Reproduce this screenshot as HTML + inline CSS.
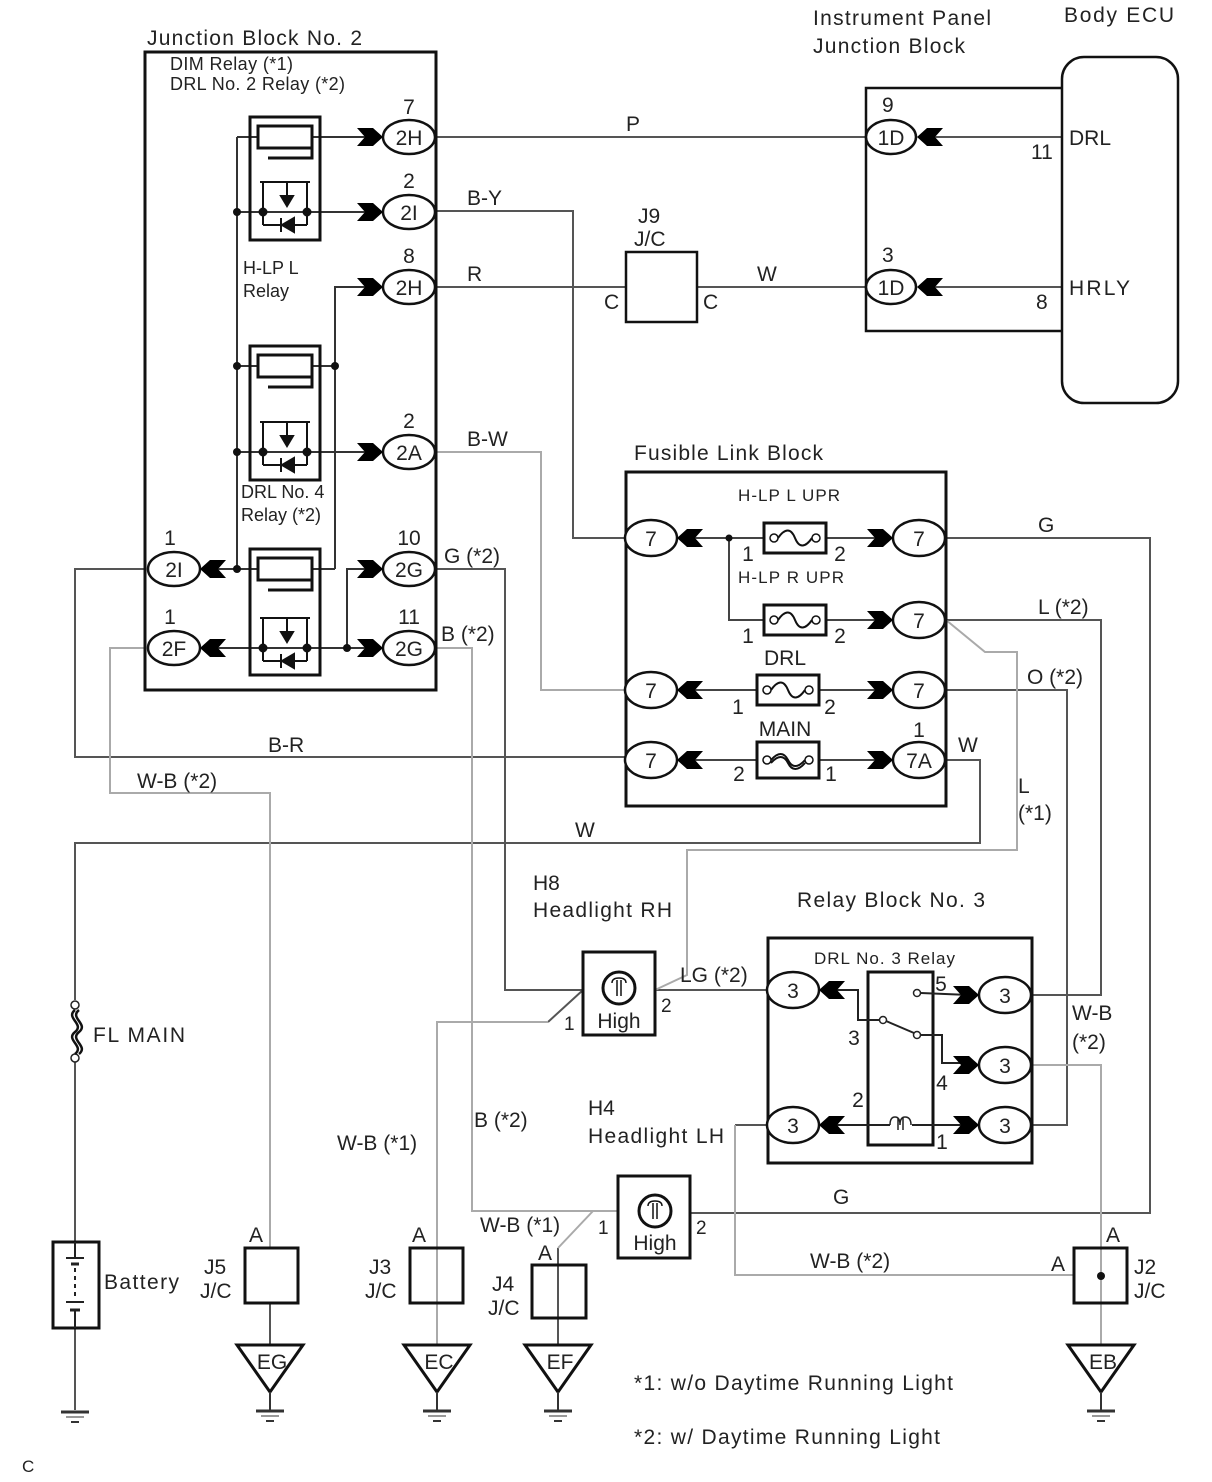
<!DOCTYPE html>
<html><head><meta charset="utf-8"><style>
html,body{margin:0;padding:0;background:#fff;}
svg{display:block;}
text{font-family:"Liberation Sans",Arial,sans-serif;fill:#222;}
</style></head><body>
<svg width="1212" height="1482" viewBox="0 0 1212 1482" xmlns="http://www.w3.org/2000/svg">
<defs>
<path id="cr" d="M-16,-9 L0,-9 L10,0 L0,9 L-16,9 L-8,0 Z" fill="#000"/>
<path id="cl" d="M16,-9 L0,-9 L-10,0 L0,9 L16,9 L8,0 Z" fill="#000"/>
<g id="coil"><rect x="8" y="-11" width="54" height="22" fill="#fff" stroke="#111" stroke-width="3"/><polyline points="18,21 62,21 62,11" fill="none" stroke="#111" stroke-width="3"/></g>
<g id="sw" stroke="#111" stroke-width="2" fill="none"><line x1="10" y1="-30" x2="60" y2="-30"/><line x1="13" y1="-30" x2="13" y2="13"/><line x1="37" y1="-30" x2="37" y2="-12"/><line x1="57" y1="-30" x2="57" y2="13"/><line x1="13" y1="13" x2="57" y2="13"/><polygon points="31,-16 43,-16 37,-6" fill="#111"/><polygon points="44,6 44,20 32,13" fill="#111"/><line x1="31" y1="6" x2="31" y2="20"/><circle cx="13" cy="0" r="3.5" fill="#111"/><circle cx="57" cy="0" r="3.5" fill="#111"/></g>
<g id="fuse"><rect x="-31" y="-15" width="62" height="30" fill="#fff" stroke="#111" stroke-width="3"/><circle cx="-21" cy="0" r="4" fill="#fff" stroke="#111" stroke-width="1.5"/><circle cx="21" cy="0" r="4" fill="#fff" stroke="#111" stroke-width="1.5"/><path d="M-17,0 C-10,-10 -4,-10 0,0 S10,10 17,0" fill="none" stroke="#111" stroke-width="2"/></g>
<g id="gnd"><polygon points="-33,0 33,0 0,47" fill="#fff" stroke="#111" stroke-width="3"/><line x1="0" y1="47" x2="0" y2="66" stroke="#333" stroke-width="2"/><line x1="-14" y1="66" x2="14" y2="66" stroke="#333" stroke-width="3"/><line x1="-9" y1="71" x2="9" y2="71" stroke="#999" stroke-width="2"/><line x1="-4" y1="76" x2="4" y2="76" stroke="#333" stroke-width="2"/></g>
<g id="lamp"><circle cx="0" cy="0" r="16" fill="none" stroke="#111" stroke-width="3"/><path d="M-7,-5 Q-7,-10 0,-10 Q7,-10 7,-5 M-2,-8 L-2,8 M2,-8 L2,8" fill="none" stroke="#111" stroke-width="1.5"/></g>
</defs>

<g fill="none" stroke-width="2">
<g stroke="#555">
<line x1="436" y1="137" x2="866" y2="137"/>
<polyline points="436,211 573,211 573,538 627,538"/>
<line x1="436" y1="287" x2="626" y2="287"/>
<line x1="697" y1="287" x2="866" y2="287"/>
<line x1="918" y1="137" x2="1062" y2="137"/>
<line x1="918" y1="287" x2="1062" y2="287"/>
<polyline points="436,569 505,569 505,990 583,990"/>
<polyline points="145,569 75,569 75,757 627,757"/>
<polyline points="946,538 1150,538 1150,1213 690,1213"/>
<polyline points="946,620 1101,620 1101,995 1032,995"/>
<polyline points="946,690 1067,690 1067,1125 1032,1125"/>
<polyline points="946,760 980,760 980,843 75,843 75,1000"/>
<line x1="75" y1="1062" x2="75" y2="1242"/>
<line x1="75" y1="1328" x2="75" y2="1410"/>
<line x1="655" y1="990" x2="768" y2="990"/>
<polyline points="735,1125 768,1125"/>
<line x1="270" y1="1303" x2="270" y2="1345"/>
<line x1="558" y1="1248" x2="558" y2="1345"/>
<polyline points="583,990 548,1022"/>
</g>
<g stroke="#aaa">
<polyline points="436,452 541,452 541,690 627,690"/>
<polyline points="436,648 472,648 472,1211 618,1211"/>
<polyline points="145,648 110,648 110,793 270,793 270,1248"/>
<polyline points="946,620 985,652 1017,652 1017,850 687,850 687,975 655,990"/>
<polyline points="548,1022 437,1022 437,1345"/>
<polyline points="593,1211 558,1248"/>
<polyline points="1032,1065 1101,1065 1101,1345"/>
<polyline points="735,1125 735,1275 1074,1275"/>
</g>
</g>

<rect x="145" y="52" width="291" height="638" fill="none" stroke="#111" stroke-width="3"/>
<text x="147" y="45" font-size="21" textLength="215">Junction Block No. 2</text>
<text x="170" y="70" font-size="18" textLength="123">DIM Relay (*1)</text>
<text x="170" y="90" font-size="18" textLength="175">DRL No. 2 Relay (*2)</text>
<text x="243" y="274" font-size="18">H-LP L</text>
<text x="243" y="297" font-size="18">Relay</text>
<text x="241" y="498" font-size="18">DRL No. 4</text>
<text x="241" y="521" font-size="18">Relay (*2)</text>
<g stroke="#333" stroke-width="2" fill="none">
<line x1="237" y1="137" x2="373" y2="137"/>
<line x1="237" y1="137" x2="237" y2="569"/>
<line x1="237" y1="212" x2="373" y2="212"/>
<line x1="237" y1="366" x2="335" y2="366"/>
<line x1="237" y1="452" x2="373" y2="452"/>
<line x1="210" y1="569" x2="335" y2="569"/>
<polyline points="335,569 335,287 373,287"/>
<polyline points="373,569 347,569 347,648"/>
<line x1="210" y1="648" x2="373" y2="648"/>
</g>
<g fill="#111"><circle cx="237" cy="212" r="4"/><circle cx="237" cy="366" r="4"/><circle cx="237" cy="452" r="4"/><circle cx="237" cy="569" r="4"/><circle cx="335" cy="366" r="4"/><circle cx="347" cy="648" r="4"/></g>
<rect x="250" y="117" width="70" height="123" fill="none" stroke="#111" stroke-width="3"/>
<rect x="250" y="346" width="70" height="134" fill="none" stroke="#111" stroke-width="3"/>
<rect x="250" y="549" width="70" height="126" fill="none" stroke="#111" stroke-width="3"/>
<use href="#coil" x="250" y="137"/><use href="#sw" x="250" y="212"/>
<use href="#coil" x="250" y="366"/><use href="#sw" x="250" y="452"/>
<use href="#coil" x="250" y="569"/><use href="#sw" x="250" y="648"/>

<g fill="#fff" stroke="#111" stroke-width="2.5">
<ellipse cx="409" cy="137" rx="26" ry="17"/><ellipse cx="409" cy="212" rx="26" ry="17"/><ellipse cx="409" cy="287" rx="26" ry="17"/>
<ellipse cx="409" cy="452" rx="26" ry="17"/><ellipse cx="409" cy="569" rx="26" ry="17"/><ellipse cx="409" cy="648" rx="26" ry="17"/>
<ellipse cx="174" cy="569" rx="26" ry="17"/><ellipse cx="174" cy="648" rx="26" ry="17"/>
</g>
<use href="#cr" x="373" y="137"/><use href="#cr" x="373" y="212"/><use href="#cr" x="373" y="287"/><use href="#cr" x="373" y="452"/><use href="#cr" x="373" y="569"/><use href="#cr" x="373" y="648"/>
<use href="#cl" x="210" y="569"/><use href="#cl" x="210" y="648"/>
<g font-size="21" text-anchor="middle">
<text x="409" y="145">2H</text><text x="409" y="220">2I</text><text x="409" y="295">2H</text><text x="409" y="460">2A</text><text x="409" y="577">2G</text><text x="409" y="656">2G</text>
<text x="174" y="577">2I</text><text x="174" y="656">2F</text>
<text x="409" y="114">7</text><text x="409" y="188">2</text><text x="409" y="263">8</text><text x="409" y="428">2</text><text x="409" y="545">10</text><text x="409" y="624">11</text>
<text x="170" y="545">1</text><text x="170" y="624">1</text>
</g>

<g font-size="21">
<text x="626" y="131">P</text><text x="467" y="205">B-Y</text><text x="467" y="281">R</text>
<text x="757" y="281">W</text><text x="467" y="446">B-W</text><text x="444" y="563">G (*2)</text>
<text x="441" y="641">B (*2)</text><text x="268" y="752">B-R</text><text x="137" y="788">W-B (*2)</text>
<text x="575" y="837">W</text><text x="1038" y="532">G</text><text x="1038" y="614">L (*2)</text>
<text x="1027" y="684">O (*2)</text><text x="958" y="752">W</text><text x="1018" y="793">L</text><text x="1018" y="820">(*1)</text>
<text x="680" y="982">LG (*2)</text><text x="1072" y="1020">W-B</text><text x="1072" y="1049">(*2)</text>
<text x="833" y="1204">G</text><text x="810" y="1268">W-B (*2)</text>
<text x="337" y="1150">W-B (*1)</text><text x="474" y="1127">B (*2)</text><text x="480" y="1232">W-B (*1)</text>
</g>

<rect x="626" y="252" width="71" height="70" fill="none" stroke="#111" stroke-width="2.5"/>
<text x="638" y="223" font-size="21">J9</text><text x="634" y="246" font-size="21">J/C</text>
<text x="604" y="309" font-size="21">C</text><text x="703" y="309" font-size="21">C</text>

<text x="813" y="25" font-size="21" textLength="178">Instrument Panel</text>
<text x="813" y="53" font-size="21" textLength="152">Junction Block</text>
<text x="1064" y="22" font-size="21" textLength="110">Body ECU</text>
<polyline points="1062,88 866,88 866,331 1062,331" fill="none" stroke="#111" stroke-width="2.5"/>
<rect x="1062" y="57" width="116" height="346" rx="22" fill="none" stroke="#111" stroke-width="2.5"/>
<ellipse cx="891" cy="137" rx="25" ry="17" fill="#fff" stroke="#111" stroke-width="2.5"/>
<ellipse cx="891" cy="287" rx="25" ry="17" fill="#fff" stroke="#111" stroke-width="2.5"/>
<use href="#cl" x="927" y="137"/><use href="#cl" x="927" y="287"/>
<g font-size="21">
<text x="891" y="145" text-anchor="middle">1D</text><text x="891" y="295" text-anchor="middle">1D</text>
<text x="882" y="112">9</text><text x="882" y="262">3</text>
<text x="1031" y="159">11</text><text x="1036" y="309">8</text>
<text x="1069" y="145">DRL</text><text x="1069" y="295" textLength="61">HRLY</text>
</g>

<rect x="626" y="472" width="320" height="334" fill="none" stroke="#111" stroke-width="3"/>
<text x="634" y="460" font-size="21" textLength="189">Fusible Link Block</text>
<g stroke="#444" stroke-width="2" fill="none">
<line x1="677" y1="538" x2="883" y2="538"/>
<polyline points="729,538 729,620 883,620"/>
<line x1="677" y1="690" x2="883" y2="690"/>
<line x1="677" y1="760" x2="883" y2="760"/>
</g>
<circle cx="729" cy="538" r="3.5" fill="#111"/>
<use href="#fuse" x="795" y="538"/><use href="#fuse" x="795" y="620"/><use href="#fuse" x="788" y="690"/>
<g transform="translate(788,760)"><rect x="-31" y="-18" width="62" height="36" fill="#fff" stroke="#111" stroke-width="3"/><circle cx="-21" cy="0" r="4" fill="#fff" stroke="#111" stroke-width="1.5"/><circle cx="21" cy="0" r="4" fill="#fff" stroke="#111" stroke-width="1.5"/><path d="M-17,0 C-10,-8 -4,-8 0,0 S10,8 17,0 M-17,3 C-10,-5 -4,-5 0,3 S10,11 17,3" fill="none" stroke="#111" stroke-width="2"/></g>
<g fill="#fff" stroke="#111" stroke-width="2.5">
<ellipse cx="651" cy="538" rx="26" ry="18"/><ellipse cx="651" cy="690" rx="26" ry="18"/><ellipse cx="651" cy="760" rx="26" ry="18"/>
<ellipse cx="919" cy="538" rx="26" ry="18"/><ellipse cx="919" cy="620" rx="26" ry="18"/><ellipse cx="919" cy="690" rx="26" ry="18"/><ellipse cx="919" cy="760" rx="26" ry="18"/>
</g>
<use href="#cl" x="687" y="538"/><use href="#cl" x="687" y="690"/><use href="#cl" x="687" y="760"/>
<use href="#cr" x="883" y="538"/><use href="#cr" x="883" y="620"/><use href="#cr" x="883" y="690"/><use href="#cr" x="883" y="760"/>
<g font-size="21" text-anchor="middle">
<text x="651" y="546">7</text><text x="651" y="698">7</text><text x="651" y="768">7</text>
<text x="919" y="546">7</text><text x="919" y="628">7</text><text x="919" y="698">7</text><text x="919" y="768">7A</text>
<text x="919" y="737">1</text>
<text x="748" y="561">1</text><text x="840" y="561">2</text><text x="748" y="643">1</text><text x="840" y="643">2</text>
<text x="738" y="714">1</text><text x="830" y="714">2</text><text x="739" y="781">2</text><text x="831" y="781">1</text>
<text x="785" y="665">DRL</text><text x="785" y="736">MAIN</text>
</g>
<text x="789" y="501" font-size="17" text-anchor="middle" textLength="102">H-LP L UPR</text>
<text x="791" y="583" font-size="17" text-anchor="middle" textLength="106">H-LP R UPR</text>

<text x="533" y="890" font-size="21">H8</text><text x="533" y="917" font-size="21" textLength="139">Headlight RH</text>
<rect x="583" y="952" width="72" height="83" fill="#fff" stroke="#111" stroke-width="3"/>
<use href="#lamp" x="619" y="988"/><text x="619" y="1028" font-size="21" text-anchor="middle">High</text>
<text x="564" y="1030" font-size="19">1</text><text x="661" y="1012" font-size="19">2</text>
<text x="588" y="1115" font-size="21">H4</text><text x="588" y="1143" font-size="21" textLength="136">Headlight LH</text>
<rect x="618" y="1176" width="72" height="82" fill="#fff" stroke="#111" stroke-width="3"/>
<use href="#lamp" x="655" y="1211"/><text x="655" y="1250" font-size="21" text-anchor="middle">High</text>
<text x="598" y="1234" font-size="19">1</text><text x="696" y="1234" font-size="19">2</text>

<text x="797" y="907" font-size="21" textLength="188">Relay Block No. 3</text>
<rect x="768" y="938" width="264" height="225" fill="none" stroke="#111" stroke-width="3"/>
<text x="814" y="964" font-size="17" textLength="141">DRL No. 3 Relay</text>
<rect x="868" y="972" width="65" height="173" fill="none" stroke="#111" stroke-width="3"/>
<g stroke="#222" stroke-width="2" fill="none">
<polyline points="829,990 858,990 858,1020 880,1020"/>
<line x1="886" y1="1021" x2="914" y2="1033"/>
<polyline points="921,1035 942,1035 942,1063 969,1063"/>
<line x1="921" y1="993" x2="969" y2="995"/>
<line x1="829" y1="1125" x2="969" y2="1125"/>
</g>
<g fill="#fff" stroke="#222" stroke-width="1.5"><circle cx="883" cy="1020" r="3.5"/><circle cx="917" cy="1035" r="3.5"/><circle cx="917" cy="993" r="3.5"/></g>
<rect x="890" y="1118" width="22" height="12" fill="#fff"/><path d="M890,1125 Q890,1117 895,1117 Q900,1117 900,1125 Q900,1117 905,1117 Q911,1117 911,1125 M898,1118 L898,1130 M903,1118 L903,1130" fill="none" stroke="#222" stroke-width="1.5"/>
<g fill="#fff" stroke="#111" stroke-width="2.5">
<ellipse cx="793" cy="990" rx="26" ry="18"/><ellipse cx="793" cy="1125" rx="26" ry="18"/>
<ellipse cx="1005" cy="995" rx="26" ry="18"/><ellipse cx="1005" cy="1065" rx="26" ry="18"/><ellipse cx="1005" cy="1125" rx="26" ry="18"/>
</g>
<use href="#cl" x="829" y="990"/><use href="#cl" x="829" y="1125"/>
<use href="#cr" x="969" y="995"/><use href="#cr" x="969" y="1065"/><use href="#cr" x="969" y="1125"/>
<g font-size="21" text-anchor="middle">
<text x="793" y="998">3</text><text x="793" y="1133">3</text><text x="1005" y="1003">3</text><text x="1005" y="1073">3</text><text x="1005" y="1133">3</text>
<text x="854" y="1045">3</text><text x="941" y="991">5</text><text x="942" y="1090">4</text><text x="858" y="1107">2</text><text x="942" y="1149">1</text>
</g>

<circle cx="75" cy="1005" r="4" fill="#fff" stroke="#222" stroke-width="1.5"/>
<circle cx="75" cy="1058" r="4" fill="#fff" stroke="#222" stroke-width="1.5"/>
<path d="M75,1010 C65,1018 85,1024 75,1032 C65,1040 85,1046 75,1054 M79,1010 C69,1018 89,1024 79,1032 C69,1040 89,1046 79,1054" fill="none" stroke="#111" stroke-width="2.5"/>
<text x="93" y="1042" font-size="21" textLength="92">FL MAIN</text>
<rect x="53" y="1242" width="46" height="86" fill="#fff" stroke="#111" stroke-width="3"/>
<g stroke="#222" stroke-width="2"><line x1="75" y1="1242" x2="75" y2="1258"/><line x1="66" y1="1258" x2="84" y2="1258"/><line x1="71" y1="1264" x2="79" y2="1264" stroke-width="3"/><line x1="75" y1="1268" x2="75" y2="1298" stroke-dasharray="4,4"/><line x1="66" y1="1302" x2="84" y2="1302"/><line x1="70" y1="1310" x2="80" y2="1310" stroke-width="3"/><line x1="75" y1="1310" x2="75" y2="1328"/></g>
<text x="104" y="1289" font-size="21" textLength="75">Battery</text>

<g stroke="#333"><line x1="61" y1="1412" x2="89" y2="1412" stroke-width="3"/><line x1="66" y1="1417" x2="84" y2="1417" stroke="#999" stroke-width="2"/><line x1="71" y1="1422" x2="79" y2="1422" stroke-width="2"/></g>

<g fill="none" stroke="#111" stroke-width="3">
<rect x="245" y="1248" width="53" height="55"/><rect x="410" y="1248" width="53" height="55"/>
<rect x="532" y="1265" width="54" height="53"/><rect x="1074" y="1248" width="53" height="55"/>
</g>
<circle cx="1101" cy="1276" r="4" fill="#111"/>
<g font-size="21">
<text x="249" y="1242">A</text><text x="204" y="1274">J5</text><text x="200" y="1298">J/C</text>
<text x="412" y="1242">A</text><text x="369" y="1274">J3</text><text x="365" y="1298">J/C</text>
<text x="538" y="1260">A</text><text x="492" y="1291">J4</text><text x="488" y="1315">J/C</text>
<text x="1106" y="1242">A</text><text x="1051" y="1271">A</text><text x="1134" y="1274">J2</text><text x="1134" y="1298">J/C</text>
</g>

<use href="#gnd" x="270" y="1345"/><use href="#gnd" x="437" y="1345"/><use href="#gnd" x="558" y="1345"/><use href="#gnd" x="1101" y="1345"/>
<g font-size="21" text-anchor="middle"><text x="272" y="1369">EG</text><text x="439" y="1369">EC</text><text x="560" y="1369">EF</text><text x="1103" y="1369">EB</text></g>

<text x="634" y="1390" font-size="21" textLength="319">*1: w/o Daytime Running Light</text>
<text x="634" y="1444" font-size="21" textLength="306">*2: w/ Daytime Running Light</text>
<text x="22" y="1472" font-size="17">C</text>
</svg>
</body></html>
